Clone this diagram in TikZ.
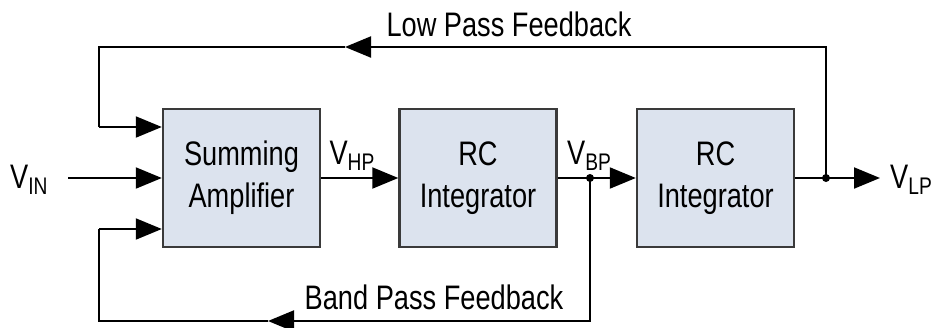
\documentclass[tikz,border=0pt]{standalone}
\usepackage{fontspec}
\setmainfont{Liberation Sans}[FakeStretch=0.8]
\usetikzlibrary{arrows.meta}
\definecolor{boxfill}{HTML}{DCE3EE}
\definecolor{boxline}{HTML}{3A3A3A}
\newcommand\Vsub[1]{V\raisebox{-6pt}{\fontsize{24}{24}\selectfont #1}}
\tikzset{
  blk/.style={draw=boxline, line width=2.4pt, fill=boxfill, minimum width=157pt, minimum height=138pt, inner sep=0pt, align=center, font=\fontsize{34}{42}\selectfont},
  wire/.style={line width=2pt},
  arr/.style={wire, -{Triangle[length=26pt,width=21pt]}},
  lbl/.style={inner sep=0pt, font=\fontsize{34}{40}\selectfont},
  dot/.style={circle, fill=black, inner sep=0pt, minimum size=8pt}
}
\begin{document}
\begin{tikzpicture}[x=1pt,y=-1pt]
\useasboundingbox (0,0) rectangle (938,327);
\node[blk] (b1) at (241.5,178) {Summing\\Amplifier};
\node[blk] (b2) at (478,178) {RC\\Integrator};
\node[blk] (b3) at (715.5,178) {RC\\Integrator};
\node[lbl, anchor=west] (vin) at (10,180) {\Vsub{IN}};
\node[lbl] (vhp) at (352,156) {\Vsub{HP}};
\node[lbl] (vbp) at (589,156) {\Vsub{BP}};
\node[lbl, anchor=west] (vlp) at (890,180) {\Vsub{LP}};
\node[lbl] (lpf) at (509,24) {Low Pass Feedback};
\node[lbl] (bpf) at (434,297) {Band Pass Feedback};
\coordinate (vinend) at (68,178);
\coordinate (jBP) at (590,178);
\coordinate (jLP) at (826,178);
\coordinate (out) at (880,178);
\coordinate (tr) at (826,47);
\coordinate (tipT) at (345,47);
\coordinate (tl) at (99,47);
\coordinate (in1) at (99,127);
\coordinate (br) at (590,321);
\coordinate (tipB) at (268,321);
\coordinate (bl) at (99,321);
\coordinate (in3) at (99,229);
% forward path
\draw[arr] (vinend) -- (b1.west);
\draw[arr] (b1.east) -- (b2.west);
\draw[arr] (b2.east) -- (b3.west);
\draw[arr] (b3.east) -- (out);
% low pass feedback
\draw[arr] (jLP) -- (tr) -- (tipT);
\draw[wire] (tipT) -- (tl) -- (in1);
\draw[arr] (in1) -- (b1.west |- in1);
% band pass feedback
\draw[arr] (jBP) -- (br) -- (tipB);
\draw[wire] (tipB) -- (bl) -- (in3);
\draw[arr] (in3) -- (b1.west |- in3);
\node[dot] at (jBP) {};
\node[dot] at (jLP) {};
\end{tikzpicture}
\end{document}
